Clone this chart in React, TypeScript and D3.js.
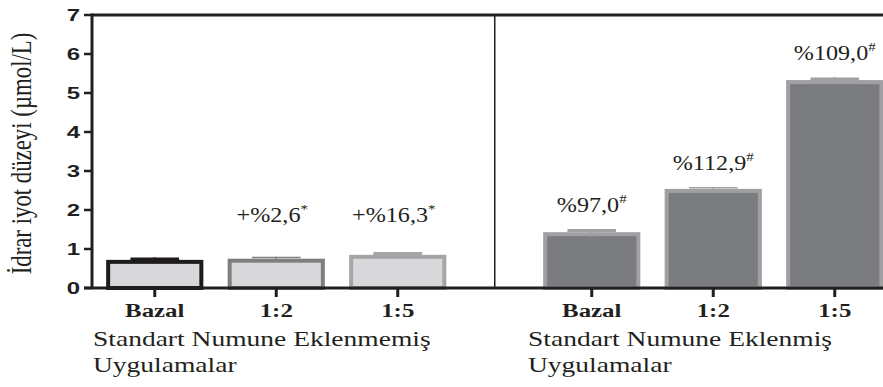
import React, { useEffect, useRef } from 'react';
import * as d3 from 'd3';

const categories = ['Bazal', '1:2', '1:5'];
const plainValues = [0.67, 0.7, 0.8];
const plainErrors = [0.11, 0.1, 0.12];
const spikedValues = [1.38, 2.49, 5.28];
const spikedErrors = [0.13, 0.1, 0.12];
const plainNotes = ['', '+%2,6', '+%16,3'];
const spikedNotes = ['%97,0', '%112,9', '%109,0'];
const yTicks = [0, 1, 2, 3, 4, 5, 6, 7];
const groupTitles = [
  ['Standart Numune Eklenmemiş', 'Uygulamalar'],
  ['Standart Numune Eklenmiş', 'Uygulamalar'],
];
const yTitle = 'İdrar iyot düzeyi (µmol/L)';

const INK = '#231f20';
const SERIF = "'Liberation Serif', 'Times New Roman', serif";
const SANS = "'Liberation Sans', Arial, sans-serif";

const App = () => {
  const svgRef = useRef<SVGSVGElement>(null);

  useEffect(() => {
    const svg = d3.select(svgRef.current);
    svg.selectAll('*').remove();

    const W = 883;
    const plotLeft = 92;
    const y = d3.scaleLinear().domain([0, 7]).range([288, 15]);

    const xLeft = d3.scaleBand().domain(categories).range([94, 458.5])
      .paddingInner(0.2).paddingOuter(0.1);
    const xRight = d3.scaleBand().domain(categories).range([531, 895.5])
      .paddingInner(0.2).paddingOuter(0.1);

    const sw = 4;

    const drawGroup = (
      x: d3.ScaleBand<string>, values: number[], errors: number[],
      fill: string, strokes: string[], capWidths: number[]
    ) => {
      const g = svg.append('g');
      categories.forEach((c, i) => {
        const x0 = x(c)!;
        const bw = x.bandwidth();
        const cx = x0 + bw / 2;
        const top = y(values[i]);
        const errTop = y(values[i] + errors[i]);
        // error bar, upper half only
        g.append('line')
          .attr('x1', cx).attr('x2', cx)
          .attr('y1', top).attr('y2', errTop)
          .attr('stroke', strokes[i]).attr('stroke-width', capWidths[i]);
        g.append('line')
          .attr('x1', cx - bw / 4).attr('x2', cx + bw / 4)
          .attr('y1', errTop + capWidths[i] / 2).attr('y2', errTop + capWidths[i] / 2)
          .attr('stroke', strokes[i]).attr('stroke-width', capWidths[i]);
        g.append('rect')
          .attr('x', x0 + sw / 2)
          .attr('y', top)
          .attr('width', bw - sw)
          .attr('height', y(0) - top)
          .attr('fill', fill)
          .attr('stroke', strokes[i])
          .attr('stroke-width', sw);
      });
    };

    drawGroup(xLeft, plainValues, plainErrors, '#d8d8da',
      ['#1e1b1c', '#7f7f81', '#a5a5a7'], [3.5, 1.5, 3]);
    drawGroup(xRight, spikedValues, spikedErrors, '#7b7c80',
      ['#a0a0a3', '#a0a0a3', '#a0a0a3'], [3, 1.5, 3]);

    // frame
    svg.append('line')
      .attr('x1', plotLeft).attr('x2', W)
      .attr('y1', y(7)).attr('y2', y(7))
      .attr('stroke', INK).attr('stroke-width', 3);
    const divX = (xLeft.range()[1] + xRight.range()[0]) / 2;
    svg.append('line')
      .attr('x1', divX).attr('x2', divX)
      .attr('y1', y(7)).attr('y2', y(0))
      .attr('stroke', INK).attr('stroke-width', 1.5);

    // y axis
    svg.append('line')
      .attr('x1', plotLeft).attr('x2', plotLeft)
      .attr('y1', y(7) - 1.5).attr('y2', y(0))
      .attr('stroke', INK).attr('stroke-width', 3);
    yTicks.forEach(t => {
      svg.append('line')
        .attr('x1', plotLeft - 8).attr('x2', plotLeft)
        .attr('y1', y(t)).attr('y2', y(t))
        .attr('stroke', INK).attr('stroke-width', 2.5);
      svg.append('g')
        .attr('transform', `translate(80,${y(t) + 6}) scale(1.5,1)`)
        .append('text')
        .attr('text-anchor', 'end')
        .style('font-family', SANS)
        .attr('font-weight', 'bold')
        .attr('font-size', 16)
        .attr('fill', INK)
        .text(t);
    });

    // x axis
    svg.append('line')
      .attr('x1', plotLeft - 8).attr('x2', W)
      .attr('y1', y(0)).attr('y2', y(0))
      .attr('stroke', INK).attr('stroke-width', 3);

    [xLeft, xRight].forEach((x, gi) => {
      categories.forEach(c => {
        const cx = x(c)! + x.bandwidth() / 2;
        svg.append('line')
          .attr('x1', cx).attr('x2', cx)
          .attr('y1', y(0)).attr('y2', y(0) + 9)
          .attr('stroke', INK).attr('stroke-width', 3);
        svg.append('g')
          .attr('transform', `translate(${cx},317) scale(1.38,1)`)
          .append('text')
          .attr('text-anchor', 'middle')
          .style('font-family', SERIF)
          .attr('font-weight', 'bold')
          .attr('font-size', 18)
          .attr('fill', INK)
          .text(c);
      });
      groupTitles[gi].forEach((line, li) => {
        svg.append('g')
          .attr('transform', `translate(${x.range()[0] - (gi ? 3 : 1)},${346 + li * 26}) scale(1.31,1)`)
          .append('text')
          .style('font-family', SERIF)
          .attr('font-size', 21)
          .attr('fill', INK)
          .text(line);
      });
    });

    // percentage notes
    const note = (cx: number, by: number, main: string, mark: string) => {
      const t = svg.append('g')
        .attr('transform', `translate(${cx},${by}) scale(1.15,1)`)
        .append('text')
        .attr('text-anchor', 'middle')
        .style('font-family', SERIF)
        .attr('font-size', 21)
        .attr('fill', INK);
      t.append('tspan').text(main);
      t.append('tspan').attr('font-size', 13).attr('dy', -9).text(mark);
    };
    categories.forEach((c, i) => {
      if (plainNotes[i]) {
        note(xLeft(c)! + xLeft.bandwidth() / 2 - 4, y(1.7), plainNotes[i], '*');
      }
      note(xRight(c)! + xRight.bandwidth() / 2,
        y(spikedValues[i] + spikedErrors[i]) - 17, spikedNotes[i], '#');
    });

    // y title
    svg.append('g')
      .attr('transform', `translate(31,${(y(0) + y(7)) / 2 + 2}) rotate(-90) scale(1,1.3)`)
      .append('text')
      .attr('text-anchor', 'middle')
      .style('font-family', SERIF)
      .attr('font-size', 22.8)
      .attr('fill', INK)
      .text(yTitle);
  }, []);

  return (
    <svg
      ref={svgRef}
      width={883}
      height={387}
      style={{ position: 'absolute', left: 0, top: 0, background: '#fff' }}
    />
  );
};

export default App;
